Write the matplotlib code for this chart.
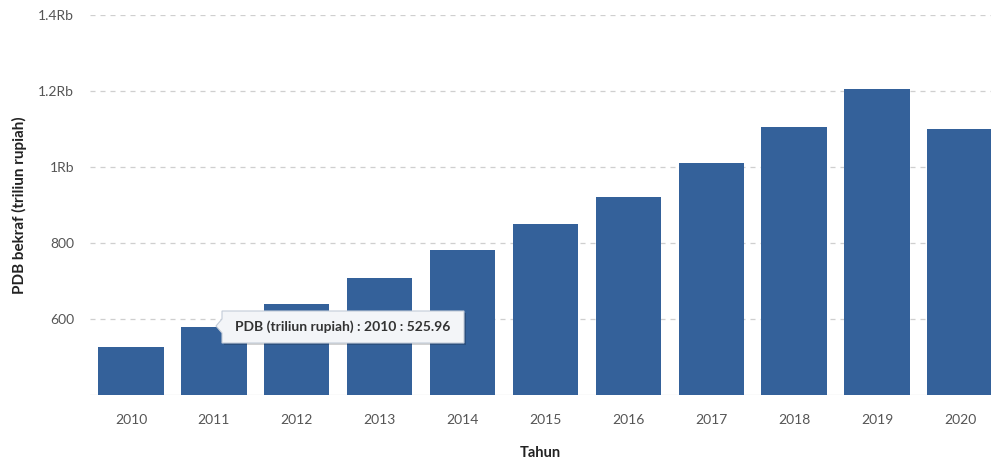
import matplotlib
matplotlib.use("Agg")
import matplotlib.pyplot as plt
from matplotlib.patches import Polygon
from matplotlib.ticker import FuncFormatter

years = ["2010", "2011", "2012", "2013", "2014", "2015",
         "2016", "2017", "2018", "2019", "2020"]
pdb = [525.96, 579.0, 639.0, 708.0, 782.0, 850.0,
       921.0, 1010.0, 1105.0, 1205.0, 1100.0]
y_ticks = [600, 800, 1000, 1200, 1400]

plt.rcParams["font.family"] = ["Lato", "DejaVu Sans"]

W, H = 991, 461
fig = plt.figure(figsize=(W / 100, H / 100), dpi=100)
left, right, top, bottom = 89.5, 991, 15, 395
ax = fig.add_axes([left / W, 1 - bottom / H, (right - left) / W, (bottom - top) / H])

x = range(len(years))
ax.bar(x, pdb, width=0.79, bottom=0, color="#34619a", zorder=3)
ax.set_ylim(400, 1400)
ax.set_xlim(-0.5, len(years) - 0.5 - 10.4 / 82.9)


def fmt(v, _):
    if v >= 1000:
        return f"{v / 1000:g}Rb"
    return f"{v:g}"


ax.set_yticks(y_ticks)
ax.yaxis.set_major_formatter(FuncFormatter(fmt))
ax.set_xticks(list(x))
ax.set_xticklabels(years)
ax.tick_params(axis="both", length=0, labelsize=10, labelcolor="#555555")
ax.tick_params(axis="x", pad=14)
ax.tick_params(axis="y", pad=11)
ax.grid(axis="y", color="#cfcfcf", linestyle=(0, (4, 4)), linewidth=0.9, zorder=0)
ax.axhline(400, color="#e6e6e6", linewidth=1.0, zorder=2)
for s in ax.spines.values():
    s.set_visible(False)

ax.set_xlabel("Tahun", fontsize=10.5, fontweight="bold", color="#222222", labelpad=14)
ax.set_ylabel("PDB bekraf (triliun rupiah)", fontsize=11, fontweight="bold",
              color="#222222", labelpad=8)

# hover tooltip for the first bar
def to_axes(px, py):
    return ((px - left) / (right - left), (bottom - py) / (bottom - top))

outline = [(222, 311), (464, 311), (464, 343), (222, 343),
           (222, 333), (216, 326), (222, 319)]
shadow = Polygon([to_axes(px + 2, py + 2) for px, py in outline], closed=True,
                 transform=ax.transAxes, facecolor="#000000", alpha=0.18,
                 edgecolor="none", zorder=5)
tip = Polygon([to_axes(px, py) for px, py in outline], closed=True,
              transform=ax.transAxes, facecolor="#f3f5f8", edgecolor="#c3ccd8",
              linewidth=0.8, zorder=6)
ax.add_patch(shadow)
ax.add_patch(tip)
tx, ty = to_axes(343, 327)
ax.text(tx, ty, f"PDB (triliun rupiah) : {years[0]} : {pdb[0]:.2f}",
        transform=ax.transAxes, ha="center", va="center", fontsize=10,
        fontweight="bold", color="#333333", zorder=7)

fig.savefig("out.png", dpi=100)
